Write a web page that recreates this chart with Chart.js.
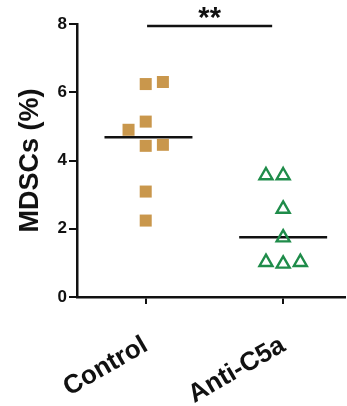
<!DOCTYPE html>
<html><head><meta charset="utf-8">
<script src="https://cdn.jsdelivr.net/npm/chart.js@4/dist/chart.umd.min.js"></script>
<style>html,body{margin:0;padding:0;background:#fff}#wrap{width:347px;height:406px;position:relative}</style>
</head><body><div id="wrap"><canvas id="c"></canvas></div>
<script>
const categories = ['Control', 'Anti-C5a'];
const controlValues = [6.24, 6.30, 4.90, 5.14, 4.43, 4.46, 3.09, 2.24];
const controlJitter = [0, 0.125, -0.125, 0, 0, 0.125, 0, 0];
const antiValues = [3.56, 3.56, 2.58, 1.74, 1.02, 0.97, 1.02];
const antiJitter = [-0.125, 0, 0, 0, -0.125, 0, 0.125];
const medians = [4.68, 1.75];
const yTicks = [0, 2, 4, 6, 8];
const significance = { from: 1.01, to: 1.92, y: 7.94, label: '**' };
const yTitle = 'MDSCs (%)';

const FONT = "'Liberation Sans', Arial, Helvetica, sans-serif";
const HALF = 0.32;

const pts = (vals, jit, c) => vals.map((v, i) => ({ x: c + jit[i], y: v }));
const medLine = (i) => [{ x: i + 1 - HALF + (i === 0 ? 0.02 : 0), y: medians[i] }, { x: i + 1 + HALF + (i === 0 ? 0.02 : 0), y: medians[i] }];

const starPlugin = {
  id: 'stars',
  afterDatasetsDraw(chart) {
    const { ctx, scales } = chart;
    const x = scales.x.getPixelForValue((significance.from + significance.to) / 2);
    const y = scales.y.getPixelForValue(significance.y);
    ctx.save();
    ctx.fillStyle = '#111';
    ctx.font = 'bold 29px ' + FONT;
    ctx.textAlign = 'center';
    ctx.textBaseline = 'alphabetic';
    ctx.fillText(significance.label, x, y + 1);
    ctx.restore();
  }
};

new Chart(document.getElementById('c'), {
  type: 'scatter',
  data: {
    datasets: [
      { data: pts(controlValues, controlJitter, 1), pointStyle: 'rect', pointRadius: 8.5, backgroundColor: '#c9974c', borderColor: '#c9974c', borderWidth: 0 },
      { data: pts(antiValues, antiJitter, 2), pointStyle: 'triangle', pointRadius: 7.5, backgroundColor: 'rgba(0,0,0,0)', borderColor: '#1f8c4a', borderWidth: 2.4 },
      { data: medLine(0), showLine: true, borderColor: '#111', borderWidth: 2.5, pointRadius: 0 },
      { data: medLine(1), showLine: true, borderColor: '#111', borderWidth: 2.5, pointRadius: 0 },
      { data: [{ x: significance.from, y: significance.y }, { x: significance.to, y: significance.y }], showLine: true, borderColor: '#111', borderWidth: 2.5, pointRadius: 0 }
    ]
  },
  options: {
    responsive: true, maintainAspectRatio: false, animation: false,
    layout: { autoPadding: false, padding: { top: 24, right: 2, left: 0, bottom: 0 } },
    plugins: { legend: { display: false }, tooltip: { enabled: false } },
    scales: {
      x: {
        type: 'linear', min: 0.5, max: 2.45,
        afterBuildTicks: (s) => { s.ticks = categories.map((c, i) => ({ value: i + 1 })); },
        afterFit: (s) => { s.height = 109; s.paddingLeft = 0; s.paddingRight = 0; },
        grid: { display: true, drawOnChartArea: false, drawTicks: true, tickLength: 7, color: '#111', lineWidth: 2 },
        border: { display: true, color: '#111', width: 2.5 },
        ticks: {
          autoSkip: false, minRotation: 30, maxRotation: 30, padding: 26,
          color: '#111', font: { family: FONT, size: 26, weight: 'bold' },
          callback: (v) => categories[Math.round(v) - 1]
        }
      },
      y: {
        min: 0, max: 8,
        afterBuildTicks: (s) => { s.ticks = yTicks.map(v => ({ value: v })); },
        afterFit: (s) => { s.width = 77; },
        grid: { display: true, drawOnChartArea: false, drawTicks: true, tickLength: 8, color: '#111', lineWidth: 2 },
        border: { display: true, color: '#111', width: 2.5 },
        ticks: { color: '#111', padding: 2, font: { family: FONT, size: 17, weight: 'bold' } },
        title: { display: true, text: yTitle, color: '#111', padding: { top: 14, bottom: 0 }, font: { family: FONT, size: 27, weight: 'bold' } }
      }
    }
  },
  plugins: [starPlugin]
});
</script></body></html>
